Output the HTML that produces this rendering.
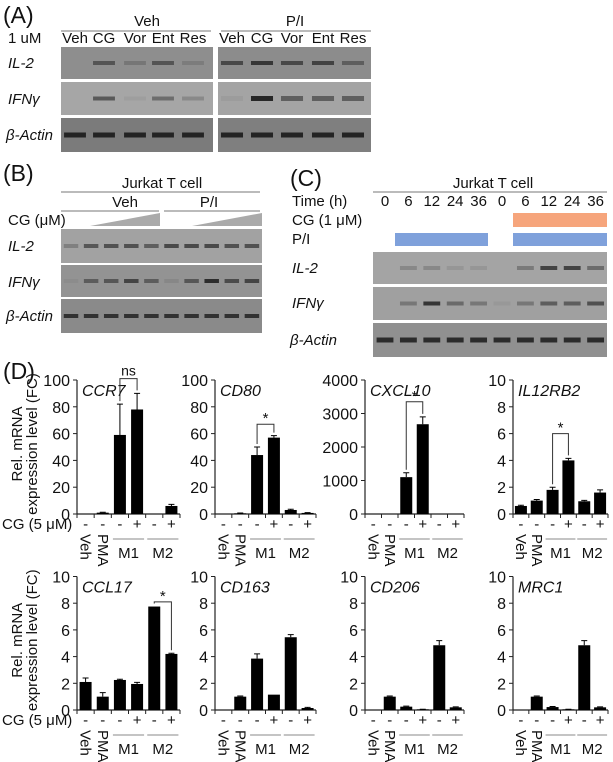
<!DOCTYPE html>
<html><head><meta charset="utf-8"><style>
html,body{margin:0;padding:0;background:#fff;}
svg{display:block;font-family:"Liberation Sans",Arial,sans-serif;}
</style></head><body>
<svg id="fig" width="613" height="762" viewBox="0 0 613 762" xmlns="http://www.w3.org/2000/svg">
<g id="static" fill="#111" font-size="15">
  <text x="3" y="23" font-size="23">(A)</text>
  <text x="147" y="26" text-anchor="middle">Veh</text>
  <line x1="61" y1="31" x2="211" y2="31" stroke="#777"/>
  <text x="295" y="26" text-anchor="middle">P/I</text>
  <line x1="221" y1="31" x2="371" y2="31" stroke="#777"/>
  <text x="8" y="43">1 uM</text>
  <text x="8" y="68" font-style="italic">IL-2</text>
  <text x="8" y="104" font-style="italic">IFNγ</text>
  <text x="6" y="140" font-style="italic">β-Actin</text>
  <text x="3" y="181" font-size="23">(B)</text>
  <text x="162" y="188" text-anchor="middle">Jurkat T cell</text>
  <line x1="61" y1="192" x2="260" y2="192" stroke="#777"/>
  <text x="125" y="207" text-anchor="middle">Veh</text>
  <text x="209" y="207" text-anchor="middle">P/I</text>
  <line x1="61" y1="211" x2="159" y2="211" stroke="#777"/>
  <line x1="164" y1="211" x2="260" y2="211" stroke="#777"/>
  <text x="8" y="225">CG (μM)</text>
  <polygon points="90,226 160,226 160,213" fill="#aaa"/>
  <polygon points="192,226 262,226 262,213" fill="#aaa"/>
  <text x="8" y="251" font-style="italic">IL-2</text>
  <text x="8" y="287" font-style="italic">IFNγ</text>
  <text x="6" y="321" font-style="italic">β-Actin</text>
  <text x="290" y="186" font-size="23">(C)</text>
  <text x="493" y="188" text-anchor="middle">Jurkat T cell</text>
  <line x1="373" y1="192" x2="607" y2="192" stroke="#777"/>
  <text x="292" y="206">Time (h)</text>
  <text x="292" y="225">CG (1 μM)</text>
  <text x="292" y="244">P/I</text>
  <rect x="513" y="213" width="94" height="14" fill="#f6a57c"/>
  <rect x="395" y="233" width="93" height="13" fill="#7fa1db"/>
  <rect x="513" y="233" width="94" height="13" fill="#7fa1db"/>
  <text x="292" y="273" font-style="italic">IL-2</text>
  <text x="292" y="308" font-style="italic">IFNγ</text>
  <text x="290" y="345" font-style="italic">β-Actin</text>
  <text x="3" y="379" font-size="23">(D)</text>
</g>
<g id="gels"></g>
<g id="charts" font-size="15" fill="#111"></g>
</svg>
<script>
const categories = ['Veh', 'PMA', 'M1-', 'M1+', 'M2-', 'M2+'];
const cgLabels = ['-', '-', '-', '+', '-', '+'];
const geneNames = ['CCR7', 'CD80', 'CXCL10', 'IL12RB2', 'CCL17', 'CD163', 'CD206', 'MRC1'];
const yMaxes = [100, 100, 4000, 10, 10, 10, 10, 10];
const yTickSteps = [20, 20, 1000, 2, 2, 2, 2, 2];
const ccr7Values = [0, 1, 59, 78, 0, 6];
const ccr7Errors = [0, 0.3, 23, 12, 0, 1.2];
const cd80Values = [0, 0.5, 44, 57, 3, 0.8];
const cd80Errors = [0, 0.2, 6, 1.5, 0.5, 0.2];
const cxcl10Values = [0, 0, 1100, 2680, 0, 0];
const cxcl10Errors = [0, 0, 130, 220, 0, 0];
const il12rb2Values = [0.6, 1.0, 1.8, 4.0, 0.95, 1.6];
const il12rb2Errors = [0.05, 0.08, 0.2, 0.15, 0.07, 0.2];
const ccl17Values = [2.1, 1.0, 2.25, 1.95, 7.75, 4.2];
const ccl17Errors = [0.3, 0.3, 0.05, 0.12, 0, 0.05];
const cd163Values = [0, 1.0, 3.85, 1.15, 5.45, 0.15];
const cd163Errors = [0, 0.05, 0.35, 0, 0.2, 0.05];
const cd206Values = [0, 1.0, 0.25, 0.05, 4.85, 0.2];
const cd206Errors = [0, 0.05, 0.04, 0.01, 0.35, 0.03];
const mrc1Values = [0, 1.0, 0.22, 0.05, 4.85, 0.2];
const mrc1Errors = [0, 0.05, 0.04, 0.01, 0.35, 0.03];
const sigLabels = ['ns', '*', '*', '*', '*', '', '', ''];
const sigPairs = [[2, 3], [2, 3], [2, 3], [2, 3], [4, 5], null, null, null];
const sigLevels = [101, 67, 3350, 6.0, 8.1, 0, 0, 0];

const allValues = [ccr7Values, cd80Values, cxcl10Values, il12rb2Values, ccl17Values, cd163Values, cd206Values, mrc1Values];
const allErrors = [ccr7Errors, cd80Errors, cxcl10Errors, il12rb2Errors, ccl17Errors, cd163Errors, cd206Errors, mrc1Errors];

const chartLeft = [77, 215, 365, 513];
const chartRight = [180, 316, 464, 608];
const rowBase = [514, 710];
const rowTop = [380, 576.5];

const NS = 'http://www.w3.org/2000/svg';
function mk(tag, attrs, parent) {
  const e = document.createElementNS(NS, tag);
  for (const k in attrs) e.setAttribute(k, attrs[k]);
  parent.appendChild(e);
  return e;
}
const charts = document.getElementById('charts');

for (let c = 0; c < 8; c++) {
  const row = Math.floor(c / 4), col = c % 4;
  const x0 = chartLeft[col], x1 = chartRight[col];
  const yb = rowBase[row], yt = rowTop[row];
  const yMax = yMaxes[c];
  const yScale = v => yb - (v / yMax) * (yb - yt);
  const slot = (x1 - x0) / categories.length;
  const xCenter = i => x0 + (i + 0.5) * slot;
  const g = mk('g', {}, charts);
  
  

  const ya = mk('line', {x1: x0, y1: yt, x2: x0, y2: yb, stroke: '#222', 'stroke-width': 1.2}, g);
  
  
  for (let v = 0; v <= yMax + 1e-9; v += yTickSteps[c]) {
    const y = yScale(v);
    const t = mk('line', {x1: x0 - 4, y1: y, x2: x0, y2: y, stroke: '#222'}, g);
    
    
    const lb = mk('text', {x: x0 - 7, y: y + 6, 'text-anchor': 'end', 'font-size': 16}, g);
    lb.textContent = String(v);
    
    
  }
  const xa = mk('line', {x1: x0, y1: yb, x2: x1, y2: yb, stroke: '#222', 'stroke-width': 1.2}, g);
  
  
  for (let i = 0; i <= categories.length; i++) {
    const xt = mk('line', {x1: x0 + i * slot, y1: yb, x2: x0 + i * slot, y2: yb + 4, stroke: '#222'}, g);
    
    
  }
  const gn = mk('text', {x: x0 + 5, y: yt + 16, 'font-style': 'italic', 'font-size': 16}, g);
  gn.textContent = geneNames[c];
  
  

  const vals = allValues[c], errs = allErrors[c];
  for (let i = 0; i < vals.length; i++) {
    const cx = xCenter(i);
    const top = yScale(vals[i]);
    const b = mk('rect', {x: cx - 6, y: top, width: 12, height: Math.max(0, yb - top), fill: '#000'}, g);
    
    
    if (errs[i] > 0) {
      const ye = yScale(vals[i] + errs[i]);
      const el = mk('path', {d: `M${cx},${top} V${ye} M${cx - 3},${ye} H${cx + 3}`, stroke: '#000', fill: 'none', 'stroke-width': 1}, g);
      
      
    }
    const cl = mk('text', {x: cx, y: yb + 15, 'text-anchor': 'middle'}, g);
    cl.textContent = cgLabels[i];
    
    
  }
  const vl = mk('text', {transform: `translate(${xCenter(0) - 5},${yb + 20}) rotate(90)`}, g);
  vl.textContent = 'Veh';
  
  
  const pl = mk('text', {transform: `translate(${xCenter(1) - 5},${yb + 20}) rotate(90)`}, g);
  pl.textContent = 'PMA';
  
  
  [['M1', 2], ['M2', 4]].forEach(([name, i]) => {
    const ln = mk('line', {x1: xCenter(i) - 7, y1: yb + 25, x2: xCenter(i + 1) + 7, y2: yb + 25, stroke: '#888'}, g);
    
    
    const t = mk('text', {x: (xCenter(i) + xCenter(i + 1)) / 2, y: yb + 44, 'text-anchor': 'middle'}, g);
    t.textContent = name;
    
    
  });
  if (sigPairs[c]) {
    const [a, b2] = sigPairs[c];
    const yh = yScale(sigLevels[c]);
    const ya2 = Math.min(yb, yScale(vals[a] + errs[a]) - 3);
    const yb2 = Math.min(yb, yScale(vals[b2] + errs[b2]) - 3);
    const br = mk('path', {d: `M${xCenter(a)},${ya2} V${yh} H${xCenter(b2)} V${yb2}`, stroke: '#333', fill: 'none', 'stroke-width': 1}, g);
    
    
    const st = mk('text', {x: (xCenter(a) + xCenter(b2)) / 2, y: yh - (sigLabels[c] === 'ns' ? 3 : 1), 'text-anchor': 'middle', 'font-size': sigLabels[c] === 'ns' ? 14 : 15}, g);
    st.textContent = sigLabels[c];
    
    
  }
  if (col === 0) {
    const cgt = mk('text', {x: 2, y: yb + 15, 'font-size': 15}, g);
    cgt.textContent = 'CG (5 μM)';
    
    
    const yc = (yt + yb) / 2 - 3;
    const t1 = mk('text', {transform: `translate(22,${yc}) rotate(-90)`, 'text-anchor': 'middle', 'font-size': 15}, g);
    t1.textContent = 'Rel. mRNA';
    
    
    const t2 = mk('text', {transform: `translate(37,${yc}) rotate(-90)`, 'text-anchor': 'middle', 'font-size': 15}, g);
    t2.textContent = 'expression level (FC)';
    
    
  }
}

const gels = document.getElementById('gels');
function gel(name, x, y, w, h, fill, lanes, intens, bandH) {
  const g = mk('g', {}, gels);
  
  
  mk('rect', {x: x, y: y, width: w, height: h, fill: fill}, g);
  const lw = w / lanes.length;
  for (let i = 0; i < lanes.length; i++) {
    if (intens[i] <= 0) continue;
    mk('rect', {x: lanes[i] - lw * 0.36, y: y + h / 2 - bandH / 2, width: lw * 0.72, height: bandH, fill: '#1a1a1a', opacity: intens[i]}, g);
  }
}
const aL = [75, 104, 135, 163, 193], aR = [232, 262, 292, 323, 353];
gel('gel-a-veh-il2', 61, 47, 152, 32, '#8e8e8e', aL, [0, .5, .2, .5, .15], 4);
gel('gel-a-pi-il2', 218, 47, 153, 32, '#8c8c8c', aR, [.6, .75, .6, .65, .4], 4);
gel('gel-a-veh-ifng', 61, 82, 152, 33, '#a6a6a6', aL, [0, .55, .05, .4, .2], 4);
gel('gel-a-pi-ifng', 218, 82, 153, 33, '#a4a4a4', aR, [.05, .9, .5, .5, .5], 5);
gel('gel-a-veh-actin', 61, 118, 152, 34, '#7b7b7b', aL, [.9, .9, .9, .9, .9], 5);
gel('gel-a-pi-actin', 218, 118, 153, 34, '#7f7f7f', aR, [.9, .9, .9, .9, .9], 5);
const bL = [], cL = [];
for (let i = 0; i < 10; i++) { bL.push(71 + i * 20.1); cL.push(385 + i * 23.4); }
gel('gel-b-il2', 61, 229, 201, 34, '#a2a2a2', bL, [.25, .55, .6, .6, .5, .65, .65, .65, .6, .6], 4);
gel('gel-b-ifng', 61, 265, 201, 32, '#939393', bL, [.05, .45, .5, .65, .45, .1, .5, .85, .6, .65], 4);
gel('gel-b-actin', 61, 299, 201, 34, '#8a8a8a', bL, [.8, .8, .8, .8, .8, .8, .8, .8, .8, .8], 4);
gel('gel-c-il2', 373, 252, 234, 32, '#a4a4a4', cL, [0, .2, .2, .1, .1, 0, .3, .7, .7, .4], 4);
gel('gel-c-ifng', 373, 287, 234, 33, '#a0a0a0', cL, [0, .3, .8, .4, .3, .05, .3, .5, .5, .6], 4);
gel('gel-c-actin', 373, 323, 234, 34, '#909090', cL, [.85, .85, .85, .85, .85, .85, .85, .85, .85, .85], 5);

const st = document.getElementById('static');
const aNames = ['Veh', 'CG', 'Vor', 'Ent', 'Res'];
[aL, aR].forEach((arr, k) => arr.forEach((x, i) => {
  const t = mk('text', {x: x, y: 43, 'text-anchor': 'middle'}, st);
  t.textContent = aNames[i];
  
  
}));
const times = ['0', '6', '12', '24', '36', '0', '6', '12', '24', '36'];
cL.forEach((x, i) => {
  const t = mk('text', {x: x, y: 206, 'text-anchor': 'middle'}, st);
  t.textContent = times[i];
  
  
});
</script>
</body></html>
